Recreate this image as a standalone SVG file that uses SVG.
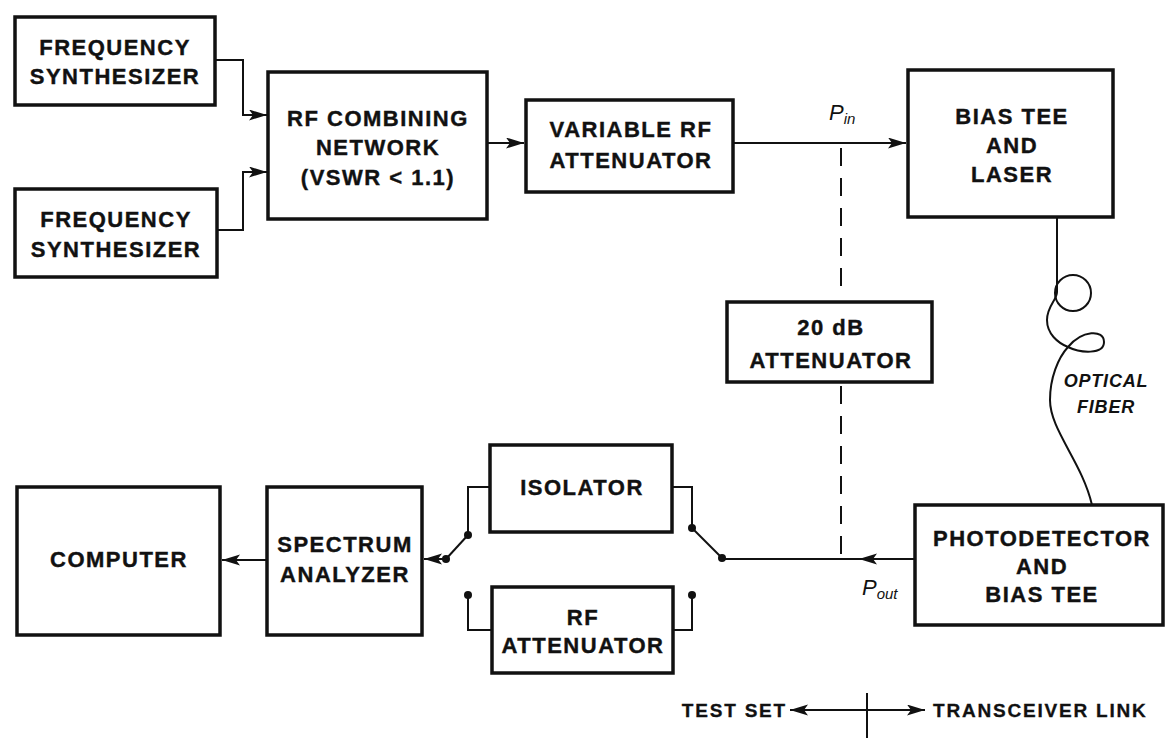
<svg xmlns="http://www.w3.org/2000/svg" width="1169" height="738" viewBox="0 0 1169 738">
<style>
.box{fill:#fff;stroke:#111;stroke-width:3.5}
.t{font-family:"Liberation Sans",Arial,sans-serif;font-weight:bold;font-size:22px;letter-spacing:1.5px;text-anchor:middle;fill:#111;stroke:#111;stroke-width:0.4}
.i{font-family:"Liberation Sans",Arial,sans-serif;font-style:italic;fill:#111}
.w{fill:none;stroke:#111;stroke-width:2}
.d{fill:none;stroke:#111;stroke-width:2;stroke-dasharray:18 12}
.dot{fill:#111}
.lg{font-family:"Liberation Sans",Arial,sans-serif;font-weight:bold;font-size:19px;letter-spacing:1.8px;fill:#111;stroke:#111;stroke-width:0.3}
</style>
<defs>
<marker id="ah" markerUnits="userSpaceOnUse" markerWidth="20" markerHeight="12" refX="18" refY="5.5" orient="auto-start-reverse">
<path d="M0,0 L18,5.5 L0,11 L4,5.5 z" fill="#111"/>
</marker>
</defs>
<rect width="1169" height="738" fill="#fff"/>
<g id="connectors">
<path class="w" d="M215,60 H243 V115 H267" marker-end="url(#ah)"/>
<path class="w" d="M217,230 H243 V172 H267" marker-end="url(#ah)"/>
<path class="w" d="M488,143 H524" marker-end="url(#ah)"/>
<path class="w" d="M733,143 H906" marker-end="url(#ah)"/>
<path class="d" d="M841,148 V298"/>
<path class="d" d="M841,386 V559"/>
<circle class="w" cx="1073" cy="293" r="18"/>
<path class="w" d="M1057,217 V292 C1057,300 1047,306 1047,320 C1047,334 1058,343 1068,347 C1080,353 1104,355 1104,342 C1104,329 1082,330 1068,347 C1058,358 1050,378 1050,400 C1050,430 1082,462 1092,505"/>
<path class="w" d="M915,559 H859" marker-end="url(#ah)"/>
<path class="w" d="M861,559 H722"/>
<path class="w" d="M672,487 H692 V528"/>
<path class="w" d="M673,630 H692 V595"/>
<path class="w" d="M692,528 L722,558"/>
<path class="w" d="M490,487 H468 V535"/>
<path class="w" d="M492,630 H468 V595"/>
<path class="w" d="M468,535 L446,559"/>
<path class="w" d="M446,559 H424" marker-end="url(#ah)"/>
<path class="w" d="M267,560 H222" marker-end="url(#ah)"/>
<circle class="dot" cx="692" cy="528" r="4"/>
<circle class="dot" cx="692" cy="595" r="4"/>
<circle class="dot" cx="722" cy="558" r="4"/>
<circle class="dot" cx="468" cy="535" r="4"/>
<circle class="dot" cx="468" cy="595" r="4"/>
<circle class="dot" cx="446" cy="559" r="4"/>
</g>
<g id="synth1"><rect class="box" x="15" y="17" width="200" height="88"/>
<text class="t" x="115" y="55">FREQUENCY</text><text class="t" x="115" y="84">SYNTHESIZER</text></g>
<g id="synth2"><rect class="box" x="15" y="189" width="202" height="88"/>
<text class="t" x="116" y="227">FREQUENCY</text><text class="t" x="116" y="257">SYNTHESIZER</text></g>
<g id="combiner"><rect class="box" x="268" y="72" width="219" height="147"/>
<text class="t" x="378" y="126">RF COMBINING</text><text class="t" x="378" y="155">NETWORK</text><text class="t" x="378" y="185">(VSWR &lt; 1.1)</text></g>
<g id="varatt"><rect class="box" x="526" y="100" width="207" height="92"/>
<text class="t" x="631" y="137">VARIABLE RF</text><text class="t" x="631" y="168">ATTENUATOR</text></g>
<g id="pin"><text class="i" x="829" y="120" font-size="22">P<tspan font-size="15" dy="4">in</tspan></text></g>
<g id="laser"><rect class="box" x="908" y="70" width="205" height="147"/>
<text class="t" x="1012" y="124">BIAS TEE</text><text class="t" x="1012" y="153">AND</text><text class="t" x="1012" y="182">LASER</text></g>
<g id="fiberlabel"><text class="i" x="1106" y="387" font-size="18" font-weight="bold" text-anchor="middle" letter-spacing="0.8">OPTICAL</text>
<text class="i" x="1106" y="413" font-size="18" font-weight="bold" text-anchor="middle" letter-spacing="0.8">FIBER</text></g>
<g id="att20"><rect class="box" x="727" y="302" width="205" height="80"/>
<text class="t" x="831" y="335">20 dB</text><text class="t" x="831" y="368">ATTENUATOR</text></g>
<g id="photodet"><rect class="box" x="915" y="505" width="248" height="120"/>
<text class="t" x="1042" y="546">PHOTODETECTOR</text><text class="t" x="1042" y="574">AND</text><text class="t" x="1042" y="602">BIAS TEE</text></g>
<g id="pout"><text class="i" x="862" y="595" font-size="22">P<tspan font-size="15" dy="4">out</tspan></text></g>
<g id="isolator"><rect class="box" x="490" y="445" width="182" height="87"/>
<text class="t" x="582" y="495">ISOLATOR</text></g>
<g id="rfatt"><rect class="box" x="492" y="587" width="181" height="86"/>
<text class="t" x="583" y="625">RF</text><text class="t" x="583" y="653">ATTENUATOR</text></g>
<g id="spectrum"><rect class="box" x="267" y="487" width="155" height="148"/>
<text class="t" x="345" y="552">SPECTRUM</text><text class="t" x="345" y="582">ANALYZER</text></g>
<g id="computer"><rect class="box" x="17" y="487" width="203" height="148"/>
<text class="t" x="119" y="567">COMPUTER</text></g>
<g id="legend">
<path class="w" d="M790,710 H925" marker-start="url(#ah)" marker-end="url(#ah)"/>
<path class="w" d="M867,693 V738"/>
<text class="lg" x="787" y="717" text-anchor="end">TEST SET</text>
<text class="lg" x="933" y="717">TRANSCEIVER LINK</text>
</g>
</svg>
